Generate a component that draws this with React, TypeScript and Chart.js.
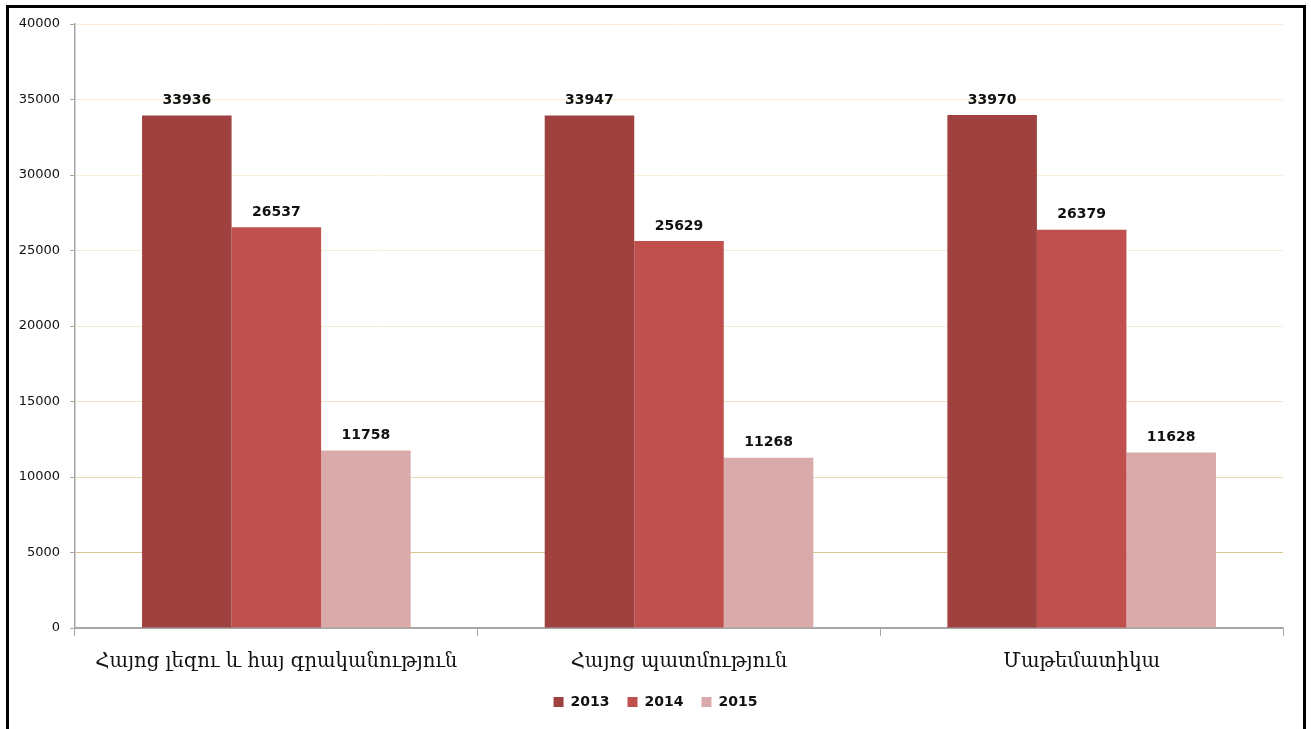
import React, { useEffect, useRef } from "react";
import { Chart, registerables } from "chart.js";

Chart.register(...registerables);

const categories = [
  "Հայոց լեզու և հայ գրականություն",
  "Հայոց պատմություն",
  "Մաթեմատիկա",
];
const years = ["2013", "2014", "2015"];
const values2013 = [33936, 33947, 33970];
const values2014 = [26537, 25629, 26379];
const values2015 = [11758, 11268, 11628];
const yTicks = [0, 5000, 10000, 15000, 20000, 25000, 30000, 35000, 40000];

const barColors = ["#9e413f", "#c0504d", "#d9aaa9"];
const gridColorsByValue: Record<number, string> = {
  0: "#a6a6a6",
  5000: "#dcc390",
  10000: "#ebd9b4",
  15000: "#f0e3c4",
  20000: "#f3edd2",
  25000: "#f6edd4",
  30000: "#faefd8",
  35000: "#fcecd6",
  40000: "#fcecd6",
};

const dataLabelPlugin = {
  id: "dataLabels",
  afterDatasetsDraw(chart: any) {
    const ctx = chart.ctx;
    ctx.save();
    ctx.font = "bold 14px 'DejaVu Sans', Verdana, sans-serif";
    ctx.fillStyle = "#111";
    ctx.textAlign = "center";
    ctx.textBaseline = "bottom";
    chart.data.datasets.forEach((ds: any, di: number) => {
      const meta = chart.getDatasetMeta(di);
      meta.data.forEach((bar: any, i: number) => {
        ctx.fillText(String(ds.data[i]), bar.x, bar.y - 8);
      });
    });
    ctx.restore();
  },
};

// center the legend on the whole canvas rather than the padded area
const legendShiftPlugin = {
  id: "legendShift",
  afterLayout(chart: any) {
    const lg = chart.legend;
    if (!lg) return;
    const shift = chart.width / 2 - (lg.left + lg.right) / 2;
    lg.left += shift;
    lg.right += shift;
  },
};

export default function App() {
  const ref = useRef<HTMLCanvasElement | null>(null);

  useEffect(() => {
    if (!ref.current) return;
    const seriesValues = [values2013, values2014, values2015];
    const chart = new Chart(ref.current, {
      type: "bar",
      data: {
        labels: categories,
        datasets: years.map((y, i) => ({
          label: y,
          data: seriesValues[i],
          backgroundColor: barColors[i],
          borderWidth: 0,
          categoryPercentage: 0.667,
          barPercentage: 1.0,
        })),
      },
      options: {
        responsive: false,
        animation: false,
        layout: { padding: { left: 0, right: 28, top: 24, bottom: 10 } },
        plugins: {
          tooltip: { enabled: false },
          legend: {
            position: "bottom",
            labels: {
              boxWidth: 10,
              boxHeight: 10,
              padding: 18,
              color: "#111",
              font: { family: "'DejaVu Sans', Verdana, sans-serif", size: 14, weight: "bold" },
            },
          },
        },
        scales: {
          x: {
            grid: {
              offset: true,
              drawOnChartArea: false,
              tickLength: 8,
              color: "#a6a6a6",
            },
            border: { color: "#a6a6a6", width: 1.5 },
            ticks: {
              padding: 14,
              color: "#111",
              font: { family: "'DejaVu Serif', serif", size: 19.6 },
              maxRotation: 0,
            },
            afterFit(scale: any) {
              scale.height = 49;
            },
          },
          y: {
            min: 0,
            max: 40000,
            afterBuildTicks(scale: any) {
              scale.ticks = yTicks.map((v) => ({ value: v }));
            },
            grid: {
              tickLength: 5,
              tickColor: "#a6a6a6",
              color: (c: any) => gridColorsByValue[c.tick?.value] ?? "#eee",
              lineWidth: 1,
            },
            border: { color: "#a6a6a6", width: 1.5 },
            ticks: {
              padding: 10,
              color: "#111",
              font: { family: "'DejaVu Sans', Verdana, sans-serif", size: 13 },
              callback: (v: any) => String(v),
            },
            afterFit(scale: any) {
              scale.width = 75;
            },
          },
        },
      },
      plugins: [dataLabelPlugin, legendShiftPlugin],
    });
    return () => chart.destroy();
  }, []);

  return (
    <div style={{ position: "absolute", left: 0, top: 0, width: 1311, height: 729, background: "#fff", overflow: "hidden" }}>
      <canvas ref={ref} width={1311} height={729} style={{ position: "absolute", left: 0, top: 0 }} />
      <div
        style={{
          position: "absolute",
          left: 6,
          top: 5,
          width: 1300,
          height: 740,
          boxSizing: "border-box",
          border: "3px solid #000",
          pointerEvents: "none",
        }}
      />
    </div>
  );
}
